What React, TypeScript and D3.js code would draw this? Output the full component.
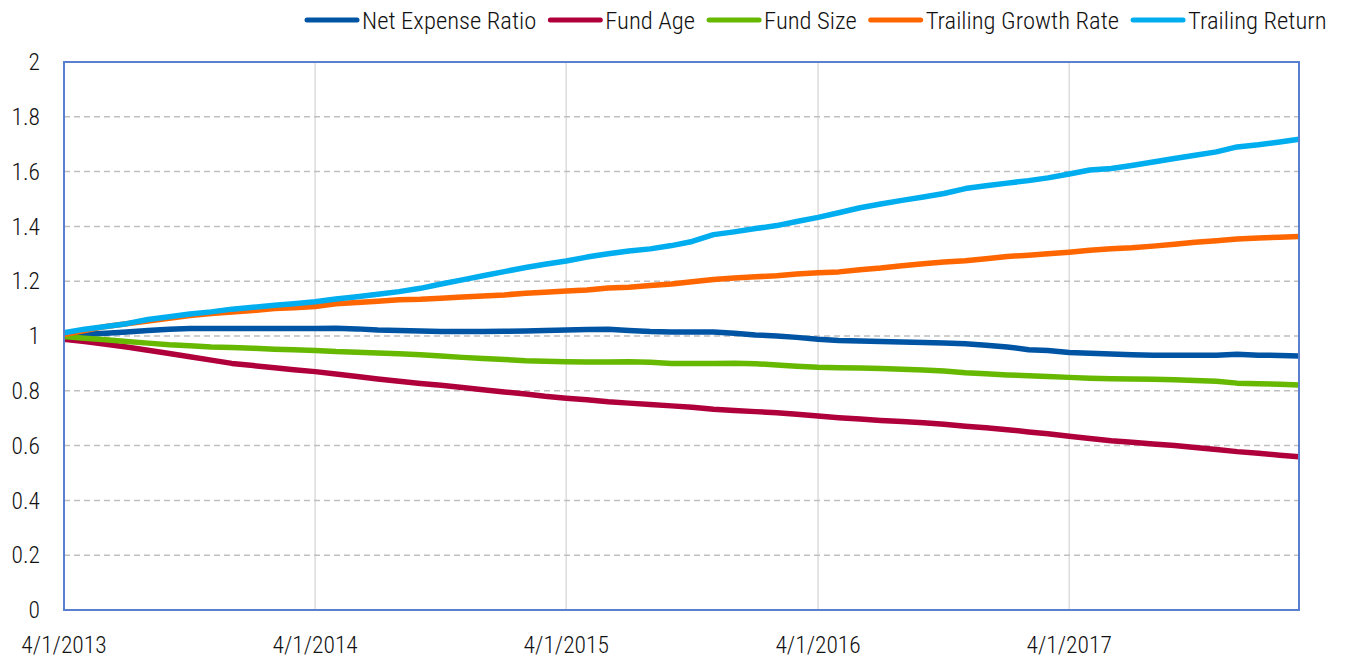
import React, { useRef, useEffect } from 'react';
import * as d3 from 'd3';

// monthly observations, 4/1/2013 .. 3/1/2018
const startDate = new Date(2013, 3, 1);
const endDate = new Date(2018, 2, 1);

const seriesNames = ['Net Expense Ratio', 'Fund Age', 'Fund Size', 'Trailing Growth Rate', 'Trailing Return'];
const seriesColors = ['#0054A4', '#B0003C', '#66B800', '#FF6600', '#00ADEF'];

const netExpenseRatio = [
  1.005, 1.006, 1.01, 1.015, 1.02, 1.025, 1.027, 1.027, 1.027, 1.027, 1.027, 1.027,
  1.027, 1.028, 1.026, 1.022, 1.02, 1.018, 1.016, 1.016, 1.016, 1.017, 1.018, 1.02,
  1.022, 1.024, 1.025, 1.02, 1.016, 1.015, 1.015, 1.015, 1.01, 1.004, 1.0, 0.995,
  0.988, 0.984, 0.982, 0.98, 0.978, 0.976, 0.974, 0.972, 0.966, 0.96, 0.95, 0.947,
  0.94, 0.937, 0.934, 0.932, 0.93, 0.93, 0.93, 0.93, 0.933, 0.93, 0.929, 0.927
];
const fundAge = [
  0.988, 0.98, 0.97, 0.96, 0.948, 0.936, 0.924, 0.912, 0.9, 0.892, 0.884, 0.877,
  0.87, 0.861, 0.852, 0.843, 0.835, 0.827, 0.82, 0.812, 0.804, 0.796, 0.788, 0.78,
  0.773, 0.767, 0.76, 0.755, 0.75, 0.745, 0.74, 0.733, 0.728, 0.724, 0.72, 0.714,
  0.708, 0.702, 0.697, 0.692, 0.688, 0.683, 0.678, 0.671, 0.665, 0.658, 0.65, 0.643,
  0.634, 0.626, 0.618, 0.612, 0.606, 0.6, 0.593, 0.586, 0.578, 0.572, 0.565, 0.559
];
const fundSize = [
  0.998, 0.992, 0.986, 0.98, 0.974, 0.968, 0.964, 0.96, 0.958, 0.955, 0.952, 0.95,
  0.947, 0.943, 0.941, 0.938, 0.935, 0.932, 0.927, 0.922, 0.918, 0.914, 0.91, 0.908,
  0.906, 0.905, 0.905, 0.906, 0.904, 0.9, 0.9, 0.9, 0.901, 0.899, 0.894, 0.89,
  0.886, 0.884, 0.883, 0.881, 0.879, 0.876, 0.872, 0.866, 0.862, 0.858, 0.855, 0.852,
  0.849, 0.846, 0.844, 0.843, 0.842, 0.84, 0.838, 0.835, 0.828, 0.826, 0.824, 0.821
];
const trailingGrowthRate = [
  1.005, 1.02, 1.035, 1.045, 1.055, 1.065, 1.075, 1.082, 1.088, 1.093, 1.1, 1.103,
  1.108, 1.118, 1.122, 1.127, 1.132, 1.134, 1.138, 1.142, 1.146, 1.15, 1.156, 1.16,
  1.164, 1.168, 1.175, 1.178, 1.184, 1.19, 1.198, 1.206, 1.212, 1.216, 1.22, 1.226,
  1.231, 1.234, 1.242, 1.248, 1.256, 1.264, 1.27, 1.275, 1.282, 1.29, 1.295, 1.3,
  1.306, 1.313, 1.318, 1.322, 1.328, 1.335, 1.342, 1.348, 1.354, 1.358, 1.36, 1.363
];
const trailingReturn = [
  1.012, 1.025, 1.035, 1.045, 1.06, 1.07, 1.08, 1.088, 1.098, 1.105, 1.112, 1.118,
  1.125, 1.135, 1.143, 1.152, 1.162, 1.174, 1.19, 1.205, 1.22, 1.235, 1.25, 1.262,
  1.274, 1.288, 1.3, 1.31, 1.318, 1.33, 1.345, 1.37, 1.38, 1.392, 1.403, 1.418,
  1.433, 1.45, 1.468, 1.482, 1.495, 1.507, 1.52, 1.538, 1.548, 1.558, 1.567, 1.577,
  1.591, 1.606, 1.611, 1.622, 1.635, 1.648, 1.66, 1.672, 1.69, 1.698, 1.708, 1.718
];

const yTicks = [0, 0.2, 0.4, 0.6, 0.8, 1, 1.2, 1.4, 1.6, 1.8, 2];
const xTickLabels = ['4/1/2013', '4/1/2014', '4/1/2015', '4/1/2016', '4/1/2017'];

const FONT = '"Roboto Condensed", "Liberation Sans Narrow", "Arial Narrow", "DejaVu Sans Condensed", sans-serif';

function App() {
  const d3Container = useRef<SVGSVGElement>(null);

  const width = 1348;
  const height = 663;
  const margin = { left: 64, right: 49, top: 62, bottom: 53 };

  useEffect(function () {
    if (!d3Container.current) return;

    const svg = d3.select(d3Container.current);
    svg.selectAll('*').remove();

    const months = d3.timeMonth.range(startDate, d3.timeMonth.offset(endDate, 1));
    const allSeries = [netExpenseRatio, fundAge, fundSize, trailingGrowthRate, trailingReturn];

    const x = d3.scaleTime()
      .domain([startDate, endDate])
      .range([margin.left, width - margin.right]);
    const y = d3.scaleLinear()
      .domain([0, 2])
      .range([height - margin.bottom, margin.top]);

    const tickDates = xTickLabels.map(s => d3.timeParse('%m/%d/%Y')(s) as Date);

    // vertical gridlines at each year
    svg.append('g')
      .selectAll('line')
      .data(tickDates.slice(1))
      .join('line')
      .attr('x1', d => x(d)).attr('x2', d => x(d))
      .attr('y1', y(2)).attr('y2', y(0))
      .attr('stroke', '#DCDCDC')
      .attr('stroke-width', 1.5);

    // horizontal dashed gridlines
    svg.append('g')
      .selectAll('line')
      .data(yTicks.filter(t => t > 0 && t < 2))
      .join('line')
      .attr('x1', x.range()[0]).attr('x2', x.range()[1])
      .attr('y1', d => y(d)).attr('y2', d => y(d))
      .attr('stroke', '#BFBFBF')
      .attr('stroke-width', 1.5)
      .attr('stroke-dasharray', '6,4');

    // series lines
    const line = d3.line<number>()
      .x((d, i) => x(months[i]))
      .y(d => y(d));

    svg.append('g')
      .selectAll('path')
      .data(allSeries)
      .join('path')
      .attr('d', d => line(d))
      .attr('fill', 'none')
      .attr('stroke', (d, i) => seriesColors[i])
      .attr('stroke-width', 5.5)
      .attr('stroke-linejoin', 'round');

    // plot frame
    svg.append('rect')
      .attr('x', x.range()[0]).attr('y', y(2))
      .attr('width', x.range()[1] - x.range()[0])
      .attr('height', y(0) - y(2))
      .attr('fill', 'none')
      .attr('stroke', '#5A7FCF')
      .attr('stroke-width', 2);

    // y labels
    svg.append('g')
      .selectAll('text')
      .data(yTicks)
      .join('text')
      .attr('x', 40)
      .attr('y', d => y(d))
      .attr('dy', '0.35em')
      .attr('text-anchor', 'end')
      .attr('font-family', FONT)
      .attr('font-size', 23.5)
      .attr('font-weight', 300)
      .attr('fill', '#111')
      .text(d => d3.format('~g')(d));

    // x labels
    svg.append('g')
      .selectAll('text')
      .data(tickDates)
      .join('text')
      .attr('x', d => x(d))
      .attr('y', 653)
      .attr('text-anchor', 'middle')
      .attr('font-family', FONT)
      .attr('font-size', 23.5)
      .attr('font-weight', 300)
      .attr('fill', '#111')
      .text((d, i) => xTickLabels[i]);

    // legend - laid out left to right by measured text width
    const legendG = svg.append('g').attr('transform', 'translate(305,20)');
    const items = legendG.selectAll('g')
      .data(seriesNames)
      .join('g');

    items.append('line')
      .attr('x1', 2).attr('x2', 52)
      .attr('y1', 0).attr('y2', 0)
      .attr('stroke', (d, i) => seriesColors[i])
      .attr('stroke-width', 5)
      .attr('stroke-linecap', 'round');

    items.append('text')
      .attr('x', 57)
      .attr('y', 0)
      .attr('dy', '0.36em')
      .attr('font-family', FONT)
      .attr('font-size', 24.6)
      .attr('font-weight', 300)
      .attr('fill', '#111')
      .text(d => d);

    let offset = 0;
    items.each(function () {
      const g = d3.select(this);
      g.attr('transform', `translate(${offset},0)`);
      const tw = (g.select('text').node() as SVGTextElement).getComputedTextLength();
      offset += 57 + tw + 12;
    });
  }, []);

  return (
    <svg
      ref={d3Container}
      width={width}
      height={height}
      style={{ position: 'absolute', left: 0, top: 0, background: '#fff' }}
    />
  );
}

export default App;
